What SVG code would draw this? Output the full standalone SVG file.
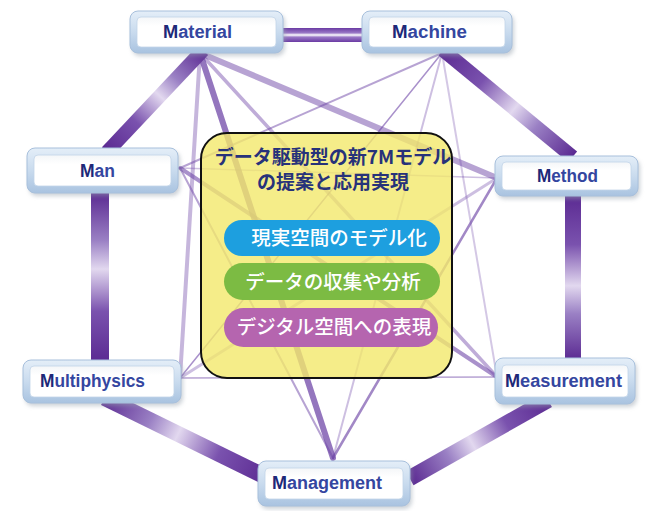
<svg xmlns="http://www.w3.org/2000/svg" width="647" height="511" viewBox="0 0 647 511">
<defs>
<linearGradient id="bandL" x1="0" y1="0" x2="1" y2="0">
<stop offset="0" stop-color="#5b2a92"/>
<stop offset="0.3" stop-color="#7a52ae"/>
<stop offset="0.55" stop-color="#e2d8ef"/>
<stop offset="0.72" stop-color="#9a80c4"/>
<stop offset="1" stop-color="#5b2a92"/>
</linearGradient>
<linearGradient id="bandX" x1="0" y1="0" x2="0" y2="1">
<stop offset="0" stop-color="#6a3aa3"/>
<stop offset="0.35" stop-color="#9a78c6"/>
<stop offset="0.5" stop-color="#ffffff"/>
<stop offset="0.65" stop-color="#9a78c6"/>
<stop offset="1" stop-color="#6a3aa3"/>
</linearGradient>
<linearGradient id="frameG" x1="0" y1="0" x2="0" y2="1">
<stop offset="0" stop-color="#e4eef8"/>
<stop offset="0.5" stop-color="#c9dbee"/>
<stop offset="1" stop-color="#a9c3e0"/>
</linearGradient>
<linearGradient id="innerG" x1="0" y1="0" x2="0" y2="1">
<stop offset="0" stop-color="#f4f6f8"/>
<stop offset="0.3" stop-color="#ffffff"/>
<stop offset="1" stop-color="#ffffff"/>
</linearGradient>
<filter id="sh" x="-10%" y="-20%" width="120%" height="150%">
<feGaussianBlur stdDeviation="2"/>
</filter>
</defs>
<style>
.frame{fill:url(#frameG);stroke:#a8c0dc;stroke-width:1}
.inner{fill:url(#innerG);stroke:#c2d4e8;stroke-width:0.8}
.shadow{fill:#9aa4b0;opacity:0.5;filter:url(#sh)}
.lbl{font-family:"Liberation Sans",Arial,sans-serif;font-weight:bold;font-size:18px;fill:#3446a0}
.m{fill:#1d2878}
.band{fill:url(#bandL)}
.thin{stroke:#7048a8;fill:none;stroke-linecap:round}
.jp{font-family:"Noto Sans CJK JP",sans-serif;font-weight:bold;text-anchor:middle}
.pilltxt{font-family:"Noto Sans CJK JP",sans-serif;font-weight:500;font-size:19.5px;fill:#ffffff;text-anchor:middle}
</style>
<rect width="647" height="511" fill="#ffffff"/>
<g id="connectors">
<line class="thin" x1="200" y1="53" x2="333" y2="458" stroke-width="6" opacity="0.75"/>
<line class="thin" x1="200" y1="53" x2="497" y2="178" stroke-width="6" opacity="0.5"/>
<line class="thin" x1="200" y1="53" x2="497" y2="377" stroke-width="3.5" opacity="0.45"/>
<line class="thin" x1="200" y1="53" x2="180" y2="378" stroke-width="4" opacity="0.4"/>
<line class="thin" x1="442" y1="53" x2="180" y2="168" stroke-width="2" opacity="0.5"/>
<line class="thin" x1="442" y1="53" x2="180" y2="378" stroke-width="1.5" opacity="0.6"/>
<line class="thin" x1="442" y1="53" x2="333" y2="458" stroke-width="2" opacity="0.35"/>
<line class="thin" x1="442" y1="53" x2="497" y2="377" stroke-width="2" opacity="0.3"/>
<line class="thin" x1="180" y1="168" x2="497" y2="178" stroke-width="1.5" opacity="0.35"/>
<line class="thin" x1="180" y1="168" x2="497" y2="377" stroke-width="4" opacity="0.6"/>
<line class="thin" x1="180" y1="168" x2="333" y2="458" stroke-width="2" opacity="0.5"/>
<line class="thin" x1="497" y1="178" x2="180" y2="378" stroke-width="3" opacity="0.35"/>
<line class="thin" x1="497" y1="178" x2="333" y2="458" stroke-width="2.5" opacity="0.65"/>
<line class="thin" x1="180" y1="378" x2="497" y2="377" stroke-width="1.5" opacity="0.5"/>
<rect x="280" y="28" width="84" height="14" fill="url(#bandX)"/>
<rect class="band" x="0" y="-7" width="140" height="14" transform="translate(107,152) rotate(-46.7)"/>
<rect class="band" x="0" y="-7" width="168" height="14" transform="translate(443,50) rotate(39.5)"/>
<rect class="band" x="0" y="-8" width="165" height="16" transform="translate(573,195) rotate(90)"/>
<rect class="band" x="0" y="-8" width="159" height="16" transform="translate(548,400) rotate(150.5)"/>
<rect class="band" x="0" y="-8" width="182" height="16" transform="translate(268,478) rotate(206.1)"/>
<rect class="band" x="0" y="-9" width="169" height="18" transform="translate(100,362) rotate(-90)"/>
</g>
<g id="center">
<rect x="201" y="133" width="251" height="245" rx="26" fill="#f2e86c" fill-opacity="0.8" stroke="#111111" stroke-width="2"/>
<text class="jp" x="333" y="164" font-size="19px" fill="#27327a">データ駆動型の新7Mモデル</text>
<text class="jp" x="333" y="189" font-size="19px" fill="#27327a">の提案と応用実現</text>
<g id="pill1">
<rect x="224" y="220" width="216" height="36" rx="18" fill="#1d9fdf"/>
<text class="pilltxt" x="339" y="245">現実空間のモデル化</text>
</g>
<g id="pill2">
<rect x="224" y="263" width="216" height="37" rx="18.5" fill="#7cbb43"/>
<text class="pilltxt" x="333" y="289">データの収集や分析</text>
</g>
<g id="pill3">
<rect x="224" y="308" width="214" height="39" rx="19.5" fill="#b565af"/>
<text class="pilltxt" x="334" y="334">デジタル空間への表現</text>
</g>
</g>
<g id="material">
<rect class="shadow" x="132" y="14" width="153" height="42" rx="8"/>
<rect class="frame" x="130" y="11" width="153" height="42" rx="8"/>
<rect class="inner" x="137" y="17" width="139" height="30" rx="4"/>
<text class="lbl" x="163" y="38" textLength="69" lengthAdjust="spacingAndGlyphs"><tspan class="m">M</tspan>aterial</text>
</g>
<g id="machine">
<rect class="shadow" x="364" y="14" width="150" height="42" rx="8"/>
<rect class="frame" x="362" y="11" width="150" height="42" rx="8"/>
<rect class="inner" x="369" y="17" width="136" height="30" rx="4"/>
<text class="lbl" x="392" y="38" textLength="75" lengthAdjust="spacingAndGlyphs"><tspan class="m">M</tspan>achine</text>
</g>
<g id="man">
<rect class="shadow" x="29" y="151" width="151" height="45" rx="8"/>
<rect class="frame" x="27" y="148" width="151" height="45" rx="8"/>
<rect class="inner" x="34" y="155" width="137" height="31" rx="4"/>
<text class="lbl" x="80" y="177" textLength="35" lengthAdjust="spacingAndGlyphs"><tspan class="m">M</tspan>an</text>
</g>
<g id="method">
<rect class="shadow" x="497" y="159" width="143" height="40" rx="8"/>
<rect class="frame" x="495" y="156" width="143" height="40" rx="8"/>
<rect class="inner" x="502" y="162" width="129" height="28" rx="4"/>
<text class="lbl" x="537" y="182" textLength="61" lengthAdjust="spacingAndGlyphs"><tspan class="m">M</tspan>ethod</text>
</g>
<g id="multiphysics">
<rect class="shadow" x="25" y="363" width="158" height="43" rx="8"/>
<rect class="frame" x="23" y="360" width="158" height="43" rx="8"/>
<rect class="inner" x="30" y="366" width="144" height="31" rx="4"/>
<text class="lbl" x="40" y="387" textLength="105" lengthAdjust="spacingAndGlyphs"><tspan class="m">M</tspan>ultiphysics</text>
</g>
<g id="measurement">
<rect class="shadow" x="497" y="361" width="140" height="46" rx="8"/>
<rect class="frame" x="495" y="358" width="140" height="46" rx="8"/>
<rect class="inner" x="502" y="365" width="126" height="32" rx="4"/>
<text class="lbl" x="505" y="387" textLength="117" lengthAdjust="spacingAndGlyphs"><tspan class="m">M</tspan>easurement</text>
</g>
<g id="management">
<rect class="shadow" x="260" y="464" width="152" height="45" rx="8"/>
<rect class="frame" x="258" y="461" width="152" height="45" rx="8"/>
<rect class="inner" x="265" y="468" width="138" height="31" rx="4"/>
<text class="lbl" x="272" y="489" textLength="110" lengthAdjust="spacingAndGlyphs"><tspan class="m">M</tspan>anagement</text>
</g>
</svg>
